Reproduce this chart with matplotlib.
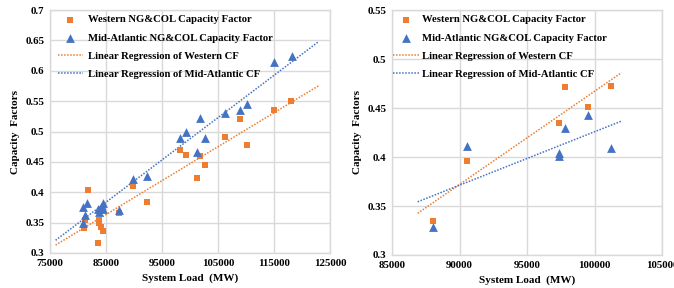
import numpy as np
import matplotlib
matplotlib.use("Agg")
import matplotlib.pyplot as plt
from matplotlib.ticker import FuncFormatter

# ---- Left panel data ----
west_load_L = [81700, 81000, 81300, 83500, 83700, 83800, 84100, 84400, 84500, 87300,
               89800, 92400, 98200, 99300, 101300, 101700, 102600, 106300, 108900,
               110200, 115000, 118100]
west_cf_L = [0.403, 0.341, 0.354, 0.316, 0.354, 0.349, 0.343, 0.336, 0.372, 0.366,
             0.410, 0.384, 0.469, 0.461, 0.423, 0.459, 0.445, 0.491, 0.521,
             0.477, 0.535, 0.551]
mid_load_L = [80970, 81680, 80850, 81300, 83530, 83830, 84130, 84550, 84430, 87300,
              89800, 92360, 98150, 99340, 101300, 101730, 102600, 106265, 108890,
              110200, 114980, 118140]
mid_cf_L = [0.376, 0.383, 0.350, 0.363, 0.373, 0.367, 0.375, 0.383, 0.372, 0.370,
            0.421, 0.426, 0.490, 0.500, 0.467, 0.522, 0.489, 0.530, 0.536,
            0.545, 0.614, 0.624]
trend_range_L = [76000, 123000]

# ---- Right panel data ----
west_load_R = [88000, 90550, 97400, 97800, 99500, 101250]
west_cf_R = [0.335, 0.396, 0.435, 0.471, 0.451, 0.472]
mid_load_R = [88000, 90550, 97400, 97400, 97800, 99500, 101250]
mid_cf_R = [0.329, 0.411, 0.404, 0.401, 0.430, 0.443, 0.409]
trend_range_R = [86900, 102000]

labels = ["Western NG&COL Capacity Factor",
          "Mid-Atlantic NG&COL Capacity Factor",
          "Linear Regression of Western CF",
          "Linear Regression of Mid-Atlantic CF"]

ORANGE = "#ED7D31"
BLUE = "#4472C4"
GRID = "#D9D9D9"
FONT = "Liberation Serif"

plt.rcParams["font.family"] = [FONT, "DejaVu Serif"]
plt.rcParams["font.weight"] = "bold"

fig = plt.figure(figsize=(6.74, 2.88), dpi=100)
axL = fig.add_axes([50/674, 35/288, 280/674, 243/288])
axR = fig.add_axes([392/674, 33/288, 270/674, 245/288])


def panel(ax, wx, wy, mx, my, trange, xlim, xticks, ylim, yticks, leg_x, hl, htp):
    ax.scatter(wx, wy, marker="s", s=24, color=ORANGE, zorder=3, label=labels[0], linewidths=0)
    ax.scatter(mx, my, marker="^", s=40, color=BLUE, zorder=4, label=labels[1], linewidths=0)
    xs = np.array(trange, dtype=float)
    pw = np.polyfit(wx, wy, 1)
    pm = np.polyfit(mx, my, 1)
    ax.plot(xs, np.polyval(pw, xs), linestyle=(0, (1, 1)), color=ORANGE, lw=1.1, label=labels[2], zorder=2)
    ax.plot(xs, np.polyval(pm, xs), linestyle=(0, (1, 1)), color=BLUE, lw=1.1, label=labels[3], zorder=2)
    ax.set_xlim(*xlim)
    ax.set_ylim(*ylim)
    ax.set_xticks(xticks)
    ax.set_yticks(yticks)
    ax.yaxis.set_major_formatter(FuncFormatter(lambda v, p: f"{v:g}"))
    ax.xaxis.set_major_formatter(FuncFormatter(lambda v, p: f"{int(round(v))}"))
    ax.grid(True, color=GRID, lw=1.0, zorder=0)
    ax.set_axisbelow(True)
    for s in ax.spines.values():
        s.set_color(GRID)
        s.set_linewidth(1.0)
    ax.tick_params(length=0, labelsize=7.8, pad=4)
    for t in ax.get_xticklabels() + ax.get_yticklabels():
        t.set_fontweight("bold")
    ax.set_xlabel("System Load  (MW)", fontsize=8, fontweight="bold", labelpad=4)
    ax.set_ylabel("Capacity  Factors", fontsize=8, fontweight="bold", labelpad=4)
    h = ax.get_window_extent().height
    leg = ax.legend(loc="upper left", frameon=False,
                    bbox_to_anchor=(leg_x, 1 - 5 / h),
                    prop={"family": FONT, "weight": "bold", "size": 7.7},
                    handlelength=hl, handletextpad=htp, labelspacing=0.8,
                    borderaxespad=0, borderpad=0)
    return leg


panel(axL, west_load_L, west_cf_L, mid_load_L, mid_cf_L, trend_range_L,
      (75000, 125000), np.arange(75000, 125001, 10000), (0.3, 0.7), np.arange(0.3, 0.7001, 0.05),
      8 / 280, 2.3, 0.55)
panel(axR, west_load_R, west_cf_R, mid_load_R, mid_cf_R, trend_range_R,
      (85000, 105000), np.arange(85000, 105001, 5000), (0.3, 0.55), np.arange(0.3, 0.5501, 0.05),
      1 / 270, 2.5, 0.2)

fig.savefig("out.png", dpi=100)
